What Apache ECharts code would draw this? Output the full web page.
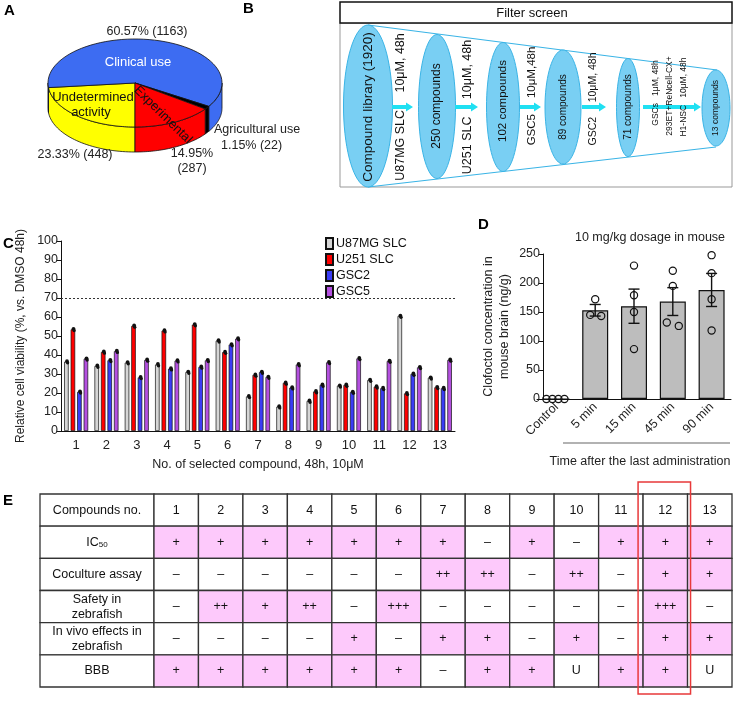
<!DOCTYPE html>
<html>
<head>
<meta charset="utf-8">
<script src="https://cdn.jsdelivr.net/npm/echarts@6/dist/echarts.min.js"></script>
<style>
html, body { margin: 0; padding: 0; background: #fff; }
#main { width: 734px; height: 702px; }
</style>
</head>
<body>
<div id="main"></div>
<script>
// ---- A: compound library classes (clockwise from the front) ----
const pieNames = ['Undetermined activity', 'Clinical use', 'Agricultural use', 'Experimental'];
const pieCounts = [448, 1163, 22, 287];

// ---- C: viability screen ----
const compounds = ['1', '2', '3', '4', '5', '6', '7', '8', '9', '10', '11', '12', '13'];
const cellLines = ['U87MG SLC', 'U251 SLC', 'GSC2', 'GSC5'];
const u87Viability = [36.5, 34.2, 36, 35, 31, 47.5, 18.2, 12.8, 15.8, 23.8, 26.8, 60.5, 28];
const u251Viability = [53.5, 41.6, 55.3, 52.8, 56, 41.5, 29.5, 25.3, 20.8, 24.2, 23.3, 19.8, 23];
const gsc2Viability = [20.6, 37.2, 28.2, 32.8, 33.7, 45.5, 31, 22.8, 24.2, 20.5, 22.5, 30, 22.5];
const gsc5Viability = [38, 42, 37.4, 37, 37.2, 48.6, 28.4, 35, 36.1, 38.2, 36.8, 33.5, 37.4];
const viabilityCutoff = 70;

// ---- D: clofoctol in brain ----
const timePoints = ['Control', '5 min', '15 min', '45 min', '90 min'];
const brainMean = [0, 153, 160, 168, 188];
const brainSem = [0, 10, 29.5, 24, 28.5];
const brainPoints = [[0, 0, 0, 0], [172, 145, 143], [230, 179, 150, 86], [221, 195, 132, 126], [248, 217, 172, 118]];

// ---- E: summary table ----
const assayNames = ['IC{sub|50}', 'Coculture assay', 'Safety in\nzebrafish', 'In vivo effects in\nzebrafish', 'BBB'];
const ic50Row = ['+', '+', '+', '+', '+', '+', '+', '–', '+', '–', '+', '+', '+'];
const cocultureRow = ['–', '–', '–', '–', '–', '–', '++', '++', '–', '++', '–', '+', '+'];
const safetyRow = ['–', '++', '+', '++', '–', '+++', '–', '–', '–', '–', '–', '+++', '–'];
const invivoRow = ['–', '–', '–', '–', '+', '–', '+', '+', '–', '+', '–', '+', '+'];
const bbbRow = ['+', '+', '+', '+', '+', '+', '–', '+', '+', 'U', '+', '+', 'U'];
const assayRows = [ic50Row, cocultureRow, safetyRow, invivoRow, bbbRow];
const selectedCompound = '12';

// styles
const FONT = '"Liberation Sans", Arial, sans-serif';
const pieColors = ['#ffff00', '#3d6cf2', '#000000', '#ff0000'];
const barColors = ['#d6d6d6', '#ff0000', '#3a3cf5', '#b450e0'];
const PINK = '#fdc9fb';
const PIE = { cx: 135, cy: 83, rx: 87, ry: 44, depth: 25 };
const barWidthC = 4.5, barPitchC = 6.5;
const pointJitter = [[-10, -4, 2, 8], [0, -5, 6], [0, 0, 0, 0], [0, 0, -6, 6], [0, 0, 0, 0]];

// pie slice angles (degrees, screen coords, starting at the front)
const pieTotal = pieCounts.reduce((a, b) => a + b, 0);
const pieStart = [];
let acc = 90;
pieCounts.forEach(v => { pieStart.push(acc); acc += v / pieTotal * 360; });
const pct = i => (pieCounts[i] / pieTotal * 100).toFixed(2) + '%';

function ellPt(t, dy) {
  const r = t * Math.PI / 180;
  return [PIE.cx + PIE.rx * Math.cos(r), PIE.cy + PIE.ry * Math.sin(r) + (dy || 0)];
}

function renderSlice(params, api) {
  const i = params.dataIndex;
  const a1 = pieStart[i], a2 = a1 + pieCounts[i] / pieTotal * 360;
  const style = { fill: pieColors[i], stroke: '#111', lineWidth: 0.8 };
  const children = [];
  [[0, 180], [360, 540]].forEach(([lo, hi]) => {
    const s = Math.max(a1, lo), e = Math.min(a2, hi);
    if (e > s) {
      const pts = [];
      for (let k = 0; k <= 40; k++) pts.push(ellPt(s + (e - s) * k / 40));
      for (let k = 40; k >= 0; k--) pts.push(ellPt(s + (e - s) * k / 40, PIE.depth));
      children.push({ type: 'polygon', shape: { points: pts }, style: style });
    }
  });
  const top = [[PIE.cx, PIE.cy]];
  for (let k = 0; k <= 60; k++) top.push(ellPt(a1 + (a2 - a1) * k / 60));
  children.push({ type: 'polygon', shape: { points: top }, style: style });
  return { type: 'group', children: children };
}

// black dots on top of the C bars
function dotSeries(values, k) {
  const off = (k - 1.5) * barPitchC + 0.6;
  return {
    type: 'custom', xAxisIndex: 0, yAxisIndex: 0, z: 5,
    data: values.map((v, i) => [i, v]),
    renderItem: function (params, api) {
      const c = api.coord([api.value(0), api.value(1)]);
      return { type: 'group', children: [
        { type: 'circle', shape: { cx: c[0] + off, cy: c[1] - 0.5, r: 1.9 }, style: { fill: '#111' } },
        { type: 'circle', shape: { cx: c[0] + off + 0.6, cy: c[1] + 1.2, r: 1.7 }, style: { fill: '#111' } }
      ] };
    }
  };
}

// table cells
const cellData = [], cellText = [];
for (let r = 0; r <= assayRows.length; r++) {
  for (let c = 0; c < compounds.length; c++) {
    cellData.push([c, r]);
    cellText.push(r === 0 ? compounds[c] : assayRows[r - 1][c]);
  }
}
const labelData = [], labelText = [];
for (let r = 0; r <= assayRows.length; r++) {
  labelData.push([0, r]);
  labelText.push(r === 0 ? 'Compounds no.' : assayNames[r - 1]);
}
const rowKeys = ['head'].concat(assayNames);

function cellRenderer(texts, shaded) {
  return function (params, api) {
    const c = api.coord([api.value(0), api.value(1)]);
    const s = api.size([1, 1]);
    const t = texts[params.dataIndex];
    const fill = shaded && api.value(1) > 0 && t.indexOf('+') >= 0 ? PINK : '#fff';
    return { type: 'group', children: [
      { type: 'rect', shape: { x: c[0] - s[0] / 2, y: c[1] - s[1] / 2, width: s[0], height: s[1] },
        style: { fill: fill, stroke: '#333', lineWidth: 1.3 } },
      { type: 'text', style: { text: t, x: c[0], y: c[1], align: 'center', verticalAlign: 'middle',
        fontSize: 12.5, fontFamily: FONT, fill: '#111', lineHeight: 15,
        rich: { sub: { fontSize: 8, fontFamily: FONT, padding: [6, 0, 0, 0] } } } }
    ] };
  };
}

// panel B helpers
function ellipsePts(cx, cy, rx, ry) {
  const pts = [];
  for (let k = 0; k < 72; k++) {
    const a = k / 72 * Math.PI * 2;
    pts.push([cx + rx * Math.cos(a), cy + ry * Math.sin(a)]);
  }
  return pts;
}
function ellipse(cx, cy, rx, ry) {
  return { type: 'polygon', shape: { points: ellipsePts(cx, cy, rx, ry) },
    style: { fill: '#79cff3', stroke: '#3ab4e6', lineWidth: 1 } };
}
function arrow(x1, x2, y) {
  const h = 2, hh = 4.5, hl = 7;
  return { type: 'polygon', shape: { points: [[x1, y - h], [x2 - hl, y - h], [x2 - hl, y - hh], [x2, y],
    [x2 - hl, y + hh], [x2 - hl, y + h], [x1, y + h]] }, style: { fill: '#1fe0f2' } };
}
function vtext(str, x, y, size) {
  return { type: 'text', x: x, y: y, rotation: Math.PI / 2, z: 10,
    style: { text: str, align: 'center', verticalAlign: 'middle', fontSize: size, fontFamily: FONT, fill: '#111' } };
}
function txt(str, x, y, size, opts) {
  return Object.assign({ type: 'text', x: x, y: y, z: 10,
    style: Object.assign({ text: str, align: 'center', verticalAlign: 'middle', fontSize: size,
      fontFamily: FONT, fill: '#222' }, (opts && opts.style) || {}) }, (opts && opts.el) || {});
}
function letter(ch, x, y) {
  return { type: 'text', x: x, y: y, z: 10,
    style: { text: ch, fontSize: 15, fontWeight: 'bold', fontFamily: FONT, fill: '#000' } };
}

const graphics = [
  letter('A', 4, 3), letter('B', 243, 1), letter('C', 3, 236), letter('D', 478, 217), letter('E', 3, 493),
  // pie labels
  txt(pct(1) + ' (' + pieCounts[1] + ')', 147, 32, 12.5),
  txt('Clinical use', 138, 62, 13, { style: { fill: '#fff' } }),
  txt('Undetermined', 93, 97, 13, { style: { fill: '#111' } }),
  txt('activity', 91, 112, 13, { style: { fill: '#111' } }),
  txt('Experimental', 163, 115, 13, { el: { rotation: -0.78 }, style: { fill: '#111' } }),
  txt('Agricultural use', 214, 130, 12.5, { style: { align: 'left' } }),
  txt(pct(2) + ' (' + pieCounts[2] + ')', 221, 146, 12.5, { style: { align: 'left' } }),
  txt(pct(0) + ' (' + pieCounts[0] + ')', 75, 155, 12.5),
  txt(pct(3), 192, 154, 12.5),
  txt('(' + pieCounts[3] + ')', 192, 169, 12.5),
  // B frame
  { type: 'rect', shape: { x: 340, y: 23, width: 392, height: 164 }, style: { fill: '#fff', stroke: '#999', lineWidth: 1 } },
  { type: 'rect', shape: { x: 340, y: 2, width: 392, height: 21 }, style: { fill: '#fff', stroke: '#111', lineWidth: 1.5 } },
  txt('Filter screen', 532, 13, 13, { style: { fill: '#111' } }),
  { type: 'line', shape: { x1: 368, y1: 25, x2: 717, y2: 70 }, style: { stroke: '#3ab4e6', lineWidth: 1.2 } },
  { type: 'line', shape: { x1: 368, y1: 187, x2: 716, y2: 147 }, style: { stroke: '#3ab4e6', lineWidth: 1.2 } },
  ellipse(368, 106, 24.5, 81), ellipse(437, 106.5, 18.5, 72), ellipse(503, 107, 16.5, 64.5),
  ellipse(563, 107, 18, 57), ellipse(628, 107.5, 11.5, 49), ellipse(716, 108, 14, 38),
  arrow(392, 413, 107), arrow(455, 478, 107), arrow(520, 541, 107), arrow(582, 606, 107), arrow(643, 701, 107),
  vtext('Compound library (1920)', 368, 107, 13.5),
  vtext('U87MG SLC     10μM, 48h', 401, 107, 12.5),
  vtext('250 compounds', 437, 106, 12),
  vtext('U251 SLC     10μM, 48h', 468, 107, 12.5),
  vtext('102 compounds', 503, 101, 11.5),
  vtext('GSC5     10μM,48h', 532, 96, 11.5),
  vtext('89 compounds', 563, 107, 10),
  vtext('GSC2     10μM, 48h', 593, 99, 10.5),
  vtext('71 compounds', 628, 107, 10),
  vtext('GSCs   1μM, 48h', 656, 93, 8.5),
  vtext('293ET+ReNcell-CX+', 670, 96, 8.5),
  vtext('H1-NSC   10μM, 48h', 684, 97, 8.5),
  vtext('13 compounds', 716, 108, 8.5),
  // D annotations
  txt('10 mg/kg dosage in mouse', 650, 238, 12.5),
  { type: 'line', shape: { x1: 563, y1: 443, x2: 730, y2: 443 }, style: { stroke: '#999', lineWidth: 1.5 } },
  txt('Time after the last administration', 640, 462, 12.5)
];

const axisLine = { show: true, lineStyle: { color: '#111', width: 1 } };
const axisLabel = { color: '#222', fontSize: 12.5, fontFamily: FONT };
const cellSeries = [u87Viability, u251Viability, gsc2Viability, gsc5Viability];

const option = {
  animation: false,
  backgroundColor: '#fff',
  graphic: { elements: graphics },
  legend: {
    data: cellLines, orient: 'vertical', left: 320, top: 232, icon: 'rect',
    itemWidth: 7, itemHeight: 11, itemGap: 3, selectedMode: false,
    textStyle: { fontSize: 12.5, fontFamily: FONT, color: '#111', padding: [0, 0, 0, -2] }
  },
  grid: [
    { left: 61, right: 279, top: 241, bottom: 271 },
    { left: 537, right: 3, top: 254, bottom: 303 },
    { left: 40, width: 114, top: 494, height: 193 },
    { left: 154, width: 578, top: 494, height: 193 }
  ],
  xAxis: [
    { type: 'category', gridIndex: 0, data: compounds, axisLine: axisLine,
      axisTick: { alignWithLabel: true, length: 4, lineStyle: { color: '#111' } },
      axisLabel: Object.assign({ margin: 8, fontSize: 13 }, { color: '#222', fontFamily: FONT }),
      name: 'No. of selected compound, 48h, 10μM', nameLocation: 'middle', nameGap: 27,
      nameTextStyle: { fontSize: 12.5, fontFamily: FONT, color: '#222' } },
    { type: 'category', gridIndex: 1, data: timePoints, axisLine: axisLine,
      axisTick: { alignWithLabel: true, length: 4, lineStyle: { color: '#111' } },
      axisLabel: Object.assign({ rotate: 45, margin: 6 }, axisLabel) },
    { type: 'category', gridIndex: 2, data: ['label'], show: false },
    { type: 'category', gridIndex: 3, data: compounds, show: false }
  ],
  yAxis: [
    { type: 'value', gridIndex: 0, min: 0, max: 100, interval: 10, axisLine: axisLine,
      axisTick: { show: true, length: 4, lineStyle: { color: '#111' } }, splitLine: { show: false },
      axisLabel: Object.assign({ margin: 3 }, axisLabel),
      name: 'Relative cell viability (%, vs. DMSO 48h)', nameLocation: 'middle', nameGap: 27,
      nameTextStyle: { fontSize: 12, fontFamily: FONT, color: '#222' } },
    { type: 'value', gridIndex: 1, min: 0, max: 250, interval: 50, offset: -6, axisLine: axisLine,
      axisTick: { show: true, length: 4, lineStyle: { color: '#111' } }, splitLine: { show: false },
      axisLabel: Object.assign({ margin: 3 }, axisLabel),
      name: 'Clofoctol concentration in\nmouse brain (ng/g)', nameLocation: 'middle', nameGap: 30,
      nameTextStyle: { fontSize: 12.5, fontFamily: FONT, color: '#222', lineHeight: 16 } },
    { type: 'category', gridIndex: 2, data: rowKeys, inverse: true, show: false },
    { type: 'category', gridIndex: 3, data: rowKeys, inverse: true, show: false }
  ],
  series: [
    // pie (panel A)
    { type: 'custom', coordinateSystem: 'none', data: pieCounts.map((v, i) => ({ name: pieNames[i], value: [v] })),
      renderItem: renderSlice }
  ].concat(cellSeries.map((vals, k) => ({
    name: cellLines[k], type: 'bar', xAxisIndex: 0, yAxisIndex: 0, data: vals,
    barWidth: barWidthC, barGap: ((barPitchC - barWidthC) / barWidthC * 100) + '%',
    itemStyle: { color: barColors[k], borderColor: '#111', borderWidth: 0.7 },
    markLine: k === 0 ? { symbol: 'none', silent: true, label: { show: false },
      lineStyle: { type: [2, 2], color: '#333', width: 1 }, data: [{ yAxis: viabilityCutoff }] } : undefined
  }))).concat(cellSeries.map((vals, k) => dotSeries(vals, k))).concat([
    // panel D
    { name: 'brain', type: 'bar', xAxisIndex: 1, yAxisIndex: 1, data: brainMean, barWidth: 26,
      itemStyle: { color: '#bdbdbd', borderColor: '#111', borderWidth: 1.2 } },
    { type: 'custom', xAxisIndex: 1, yAxisIndex: 1, z: 5,
      data: brainMean.map((m, i) => [i, m, brainSem[i]]).filter(d => d[2] > 0),
      renderItem: function (params, api) {
        const hi = api.coord([api.value(0), api.value(1) + api.value(2)]);
        const lo = api.coord([api.value(0), api.value(1) - api.value(2)]);
        const cap = 5.5, st = { stroke: '#111', lineWidth: 1.4 };
        return { type: 'group', children: [
          { type: 'line', shape: { x1: hi[0], y1: hi[1], x2: lo[0], y2: lo[1] }, style: st },
          { type: 'line', shape: { x1: hi[0] - cap, y1: hi[1], x2: hi[0] + cap, y2: hi[1] }, style: st },
          { type: 'line', shape: { x1: lo[0] - cap, y1: lo[1], x2: lo[0] + cap, y2: lo[1] }, style: st }
        ] };
      } },
    { type: 'custom', xAxisIndex: 1, yAxisIndex: 1, z: 6,
      data: [].concat.apply([], brainPoints.map((pts, i) => pts.map((v, j) => [i, v, pointJitter[i][j]]))),
      renderItem: function (params, api) {
        const c = api.coord([api.value(0), api.value(1)]);
        return { type: 'circle', shape: { cx: c[0] + api.value(2), cy: c[1], r: 3.6 },
          style: { fill: 'none', stroke: '#111', lineWidth: 1.2 } };
      } },
    // panel E
    { type: 'custom', xAxisIndex: 2, yAxisIndex: 2, data: labelData, renderItem: cellRenderer(labelText, false) },
    { type: 'custom', xAxisIndex: 3, yAxisIndex: 3, data: cellData, renderItem: cellRenderer(cellText, true) },
    { type: 'custom', xAxisIndex: 3, yAxisIndex: 3, z: 8, data: [[compounds.indexOf(selectedCompound), 0]],
      renderItem: function (params, api) {
        const top = api.coord([api.value(0), 0]);
        const bot = api.coord([api.value(0), assayRows.length]);
        const s = api.size([1, 1]);
        const y1 = top[1] - s[1] / 2 - 12, y2 = bot[1] + s[1] / 2 + 7;
        return { type: 'rect', shape: { x: top[0] - s[0] / 2 - 5, y: y1, width: s[0] + 8, height: y2 - y1 },
          style: { fill: 'none', stroke: '#e8393a', lineWidth: 1.5 } };
      } }
  ])
};

const chart = echarts.init(document.getElementById('main'));
chart.setOption(option);
</script>
</body>
</html>
